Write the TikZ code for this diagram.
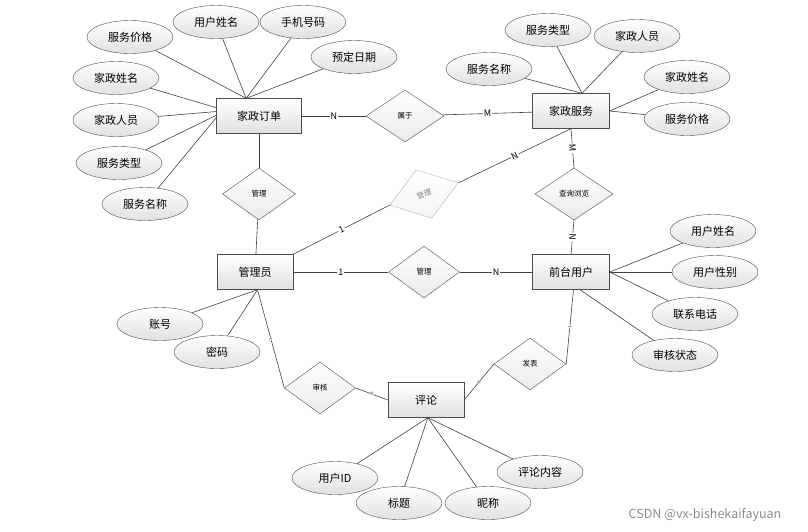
\documentclass[tikz,border=0pt]{standalone}
\usepackage{fontspec}
\setmainfont{Noto Sans CJK SC}
\usetikzlibrary{shapes.geometric}

\begin{document}
\begin{tikzpicture}[x=1pt, y=-1pt,
    entity/.style={draw=black!70, top color=white, bottom color=black!12, minimum width=77pt, minimum height=35pt, inner sep=0pt, font=\fontsize{11}{11}\selectfont},
    attr/.style={ellipse, draw=black!70, top color=white, bottom color=black!12, minimum width=86pt, minimum height=33pt, inner sep=0pt, font=\fontsize{11}{11}\selectfont},
    rel/.style={diamond, draw=black!70, top color=white, bottom color=black!8, minimum width=74pt, minimum height=52pt, inner sep=0pt, font=\fontsize{7.5}{7.5}\selectfont},
    card/.style={fill=white, inner sep=1pt, font=\fontsize{9}{9}\selectfont},
    tick/.style={fill=white, sloped, inner sep=0.3pt, font=\fontsize{4}{4}\selectfont},
    link/.style={draw=black!75, line width=0.6pt}]
        \useasboundingbox (0,0) rectangle (808,531);
        % entities
        \node[entity, minimum width=85pt] (order) at (259,116) {家政订单};
        \node[entity] (service) at (571,111) {家政服务};
        \node[entity, minimum width=76pt] (admin) at (255,272) {管理员};
        \node[entity] (front) at (571,272) {前台用户};
        \node[entity, minimum width=76pt] (comment) at (426,400) {评论};
        % relations
        \node[rel, minimum width=78pt] (belong) at (405,116) {属于};
        \node[rel, minimum width=73pt] (mgrorder) at (259,194) {管理};
        \node[rel, minimum width=78pt] (query) at (574,194) {查询浏览};
        \node[rel, minimum width=71pt] (mgruser) at (424,272) {管理};
        \node[rel, minimum width=71pt] (audit) at (320,388) {审核};
        \node[rel, minimum width=72pt] (publish) at (530,364) {发表};
        \node[rel, draw=black!30, text=black!50, top color=white, bottom color=black!4, rotate=18, minimum width=72pt, minimum height=51pt] (mgrservice) at (424,194) {管理};
        % attributes
        \node[attr] (oprice) at (130,37) {服务价格};
        \node[attr] (ouser) at (216,22) {用户姓名};
        \node[attr] (ophone) at (303,22) {手机号码};
        \node[attr] (odate) at (354,57) {预定日期};
        \node[attr] (ohname) at (116,78) {家政姓名};
        \node[attr] (ostaff) at (116,120) {家政人员};
        \node[attr] (otype) at (119,163) {服务类型};
        \node[attr] (osname) at (145,204) {服务名称};
        \node[attr] (stype) at (548,30) {服务类型};
        \node[attr] (sstaff) at (637,36) {家政人员};
        \node[attr] (ssname) at (489,69) {服务名称};
        \node[attr] (shname) at (687,77) {家政姓名};
        \node[attr] (sprice) at (687,119) {服务价格};
        \node[attr] (fname) at (713,231) {用户姓名};
        \node[attr] (fsex) at (715,272) {用户性别};
        \node[attr] (ftel) at (695,314) {联系电话};
        \node[attr] (fstate) at (675,355) {审核状态};
        \node[attr] (aacc) at (160,324) {账号};
        \node[attr] (apwd) at (217,352) {密码};
        \node[attr] (cuid) at (335,478) {用户ID};
        \node[attr] (ctitle) at (399,503) {标题};
        \node[attr] (cnick) at (488,503) {昵称};
        \node[attr] (ctext) at (540,472) {评论内容};

        % attribute links
        \foreach \a/\p in {oprice/126, ouser/126, ophone/126, odate/126, ohname/169, ostaff/174, otype/179, osname/182} {
          \draw[link] (\a) -- (order.\p);
        }
        \foreach \a/\p in {stype/58, sstaff/58, ssname/58, shname/0, sprice/0} {
          \draw[link] (\a) -- (service.\p);
        }
        \foreach \a/\p in {fname/0, fsex/0, ftel/0, fstate/-63} {
          \draw[link] (\a) -- (front.\p);
        }
        \foreach \a in {aacc, apwd} {
          \draw[link] (\a) -- (admin.-82);
        }
        \foreach \a in {cuid, ctitle, cnick, ctext} {
          \draw[link] (\a) -- (comment.-84);
        }

        % relation links
        \draw[link] (order) -- node[card] {N} (belong);
        \draw[link] (belong) -- node[card] {M} (service);
        \draw[link] (order) -- (mgrorder);
        \draw[link] (mgrorder) -- (admin);
        \draw[link] (service.south) -- node[card, sloped] {M} (query.north);
        \draw[link] (query.south) -- node[card, sloped] {N} (front.north);
        \draw[link] (admin) -- node[card] {1} (mgruser);
        \draw[link] (mgruser) -- node[card] {N} (front);
        \draw[link] (admin.north east) -- node[card, sloped] {1} (mgrservice.west);
        \draw[link] (mgrservice.east) -- node[card, sloped] {N} (service.south);
        \draw[link] (admin.-82) -- node[tick] {1} (audit.west);
        \draw[link] (audit.east) -- node[tick] {N} (comment.west);
        \draw[link] (comment.east) -- node[tick] {N} (publish.west);
        \draw[link] (publish.east) -- node[tick] {1} (front.-82);

        \node[text=black!45, font=\fontsize{12.5}{12.5}\selectfont] (mark) at (705,515) {CSDN @vx-bishekaifayuan};
\end{tikzpicture}
\end{document}
